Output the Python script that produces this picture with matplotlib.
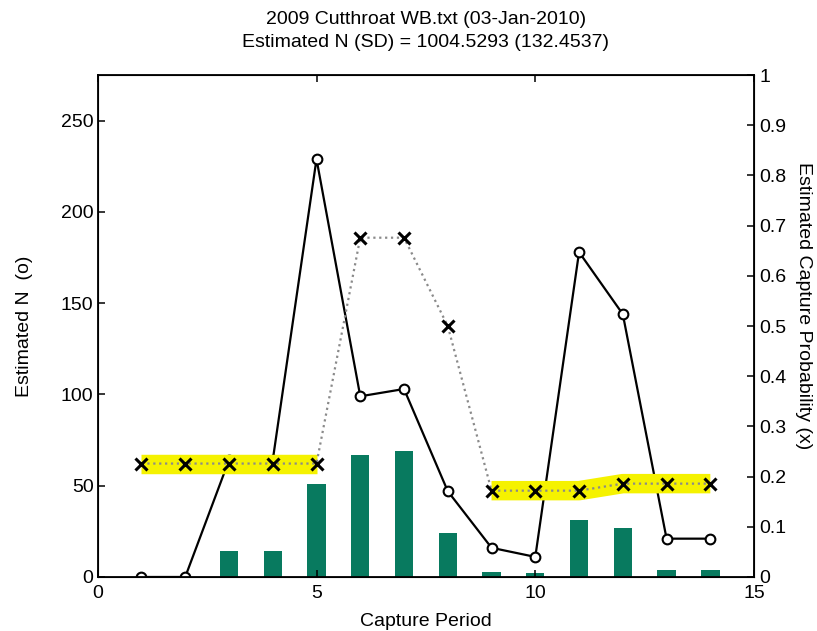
import matplotlib
matplotlib.use("Agg")
import matplotlib.pyplot as plt

plt.rcParams["font.family"] = ["Liberation Sans", "DejaVu Sans"]
plt.rcParams["font.size"] = 14

# capture periods and estimates
periods = [1, 2, 3, 4, 5, 6, 7, 8, 9, 10, 11, 12, 13, 14]
catch = [0, 0, 14, 14, 51, 67, 69, 24, 3, 2, 31, 27, 4, 4]
est_n = [0, 0, 64, 64, 229, 99, 103, 47, 16, 11, 178, 144, 21, 21]
cap_prob = [0.226, 0.226, 0.226, 0.226, 0.226, 0.676, 0.676, 0.50,
            0.172, 0.172, 0.172, 0.186, 0.186, 0.186]
# groups of periods sharing one capture probability
groups = [(0, 5), (8, 14)]

fig = plt.figure(figsize=(8.17, 6.31), dpi=100)
ax = fig.add_axes([0.1196, 0.0856, 0.8034, 0.7954])

ax.bar(periods, catch, width=0.42, color="#087a5f", zorder=1)
ax.plot(periods, est_n, "-o", color="black", lw=1.6, ms=7,
        mfc="white", mec="black", mew=1.5, zorder=2)

ax.set_xlim(0, 15)
ax.set_ylim(0, 275)
ax.set_xticks([0, 5, 10, 15])
ax.set_yticks([0, 50, 100, 150, 200, 250])
ax.set_xlabel("Capture Period", labelpad=8)
ax.set_ylabel("Estimated N  (o)", labelpad=20)
ax.tick_params(direction="in", length=5, width=1.1, top=True, right=False,
               pad=3)
ax.tick_params(axis="x", pad=6)
for s in ax.spines.values():
    s.set_linewidth(1.3)

ax2 = ax.twinx()
for a, b in groups:
    ax2.plot(periods[a:b], cap_prob[a:b], color="#f5f200", lw=14,
             solid_capstyle="butt", zorder=1)
ax2.plot(periods, cap_prob, ":", color="#8a8a8a", lw=1.6, zorder=2)
ax2.plot(periods, cap_prob, "x", color="black", ms=9, mew=2.2, zorder=3)
ax2.set_ylim(0, 1)
ax2.set_yticks([i / 10 for i in range(11)])
ax2.set_yticklabels(["0", "0.1", "0.2", "0.3", "0.4", "0.5", "0.6",
                     "0.7", "0.8", "0.9", "1"])
ax2.set_ylabel("Estimated Capture Probability (x)", rotation=-90, labelpad=18)
ax2.yaxis.label.set_y(0.54)
ax2.tick_params(direction="in", length=5, width=1.1, pad=4)

ax.set_title("2009 Cutthroat WB.txt (03-Jan-2010)\nEstimated N (SD) = 1004.5293 (132.4537)",
             fontsize=14, pad=20, linespacing=1.45)

fig.savefig("out.png", dpi=100)
